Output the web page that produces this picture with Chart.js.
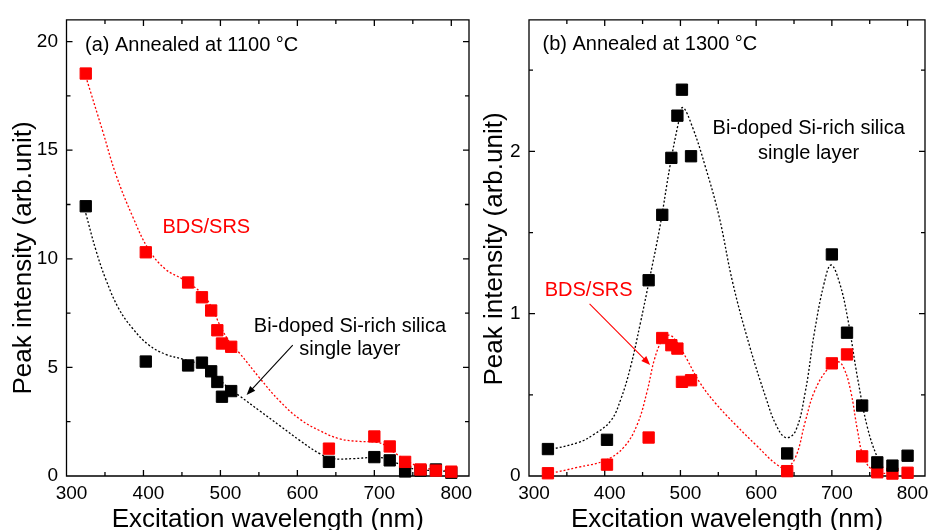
<!DOCTYPE html>
<html>
<head>
<meta charset="utf-8">
<title>Peak intensity vs excitation wavelength</title>
<script src="https://cdn.jsdelivr.net/npm/chart.js@4.4.0/dist/chart.umd.min.js"></script>
<style>
  html, body { margin: 0; padding: 0; background: #fff; overflow: hidden; }
  #wrap { position: relative; width: 932px; height: 530px; }
  canvas { position: absolute; top: 0; }
</style>
</head>
<body>
<div id="wrap">
  <canvas id="panelA" width="478" height="530" style="left:0"></canvas>
  <canvas id="panelB" width="456" height="530" style="left:478px"></canvas>
</div>
<script>
/* Peak intensity vs excitation wavelength, two annealing temperatures */

// excitation wavelengths (nm), shared by every measured series
var WAVELENGTH = [325, 403, 458, 476, 488, 496, 502, 514, 641, 700, 720, 740, 760, 780, 800];

// (a) 1100 C
var A_BDS = [18.53, 10.30, 8.91, 8.23, 7.62, 6.71, 6.10, 5.95, 1.26, 1.82, 1.36, 0.65, 0.30, 0.25, 0.20];
var A_SINGLE = [12.42, 5.27, 5.09, 5.22, 4.82, 4.33, 3.65, 3.91, 0.65, 0.87, 0.72, 0.21, 0.25, 0.30, 0.15];

// (b) 1300 C
var B_BDS = [0.017, 0.07, 0.237, 0.85, 0.806, 0.785, 0.58, 0.59, 0.03, 0.694, 0.749, 0.121, 0.023, 0.015, 0.02];
var B_SINGLE = [0.166, 0.223, 1.206, 1.609, 1.96, 2.22, 2.38, 1.97, 0.139, 1.365, 0.883, 0.434, 0.084, 0.064, 0.125];

// dotted guide curves
var A_BDS_FIT_X = [325, 347, 364, 386, 407, 429, 451, 476, 488, 500, 513, 525, 551, 577, 603, 629, 655, 681, 702, 715, 728, 758, 780, 800];
var A_BDS_FIT_Y = [18.4, 15.88, 13.9, 11.94, 10.42, 9.51, 9.06, 8.4, 7.8, 6.9, 6.1, 5.65, 4.51, 3.45, 2.62, 2.09, 1.71, 1.59, 1.56, 1.4, 1.03, 0.42, 0.3, 0.22];
var A_SINGLE_FIT_X = [325, 338, 351, 368, 386, 407, 429, 451, 476, 490, 503, 514, 525, 551, 577, 603, 629, 646, 672, 698, 715, 741, 760, 780, 800];
var A_SINGLE_FIT_Y = [12.1, 10.42, 9.06, 7.7, 6.79, 6.03, 5.6, 5.38, 5.1, 4.75, 4.3, 3.95, 3.68, 3.0, 2.32, 1.64, 1.03, 0.8, 0.8, 0.85, 0.8, 0.42, 0.28, 0.25, 0.2];

var B_BDS_FIT_X = [325, 365, 400, 425, 443, 456, 466, 477, 486, 495, 508, 525, 546, 574, 600, 626, 639, 652, 665, 677, 695, 708, 716, 725, 734, 742, 755, 780];
var B_BDS_FIT_Y = [0.013, 0.054, 0.095, 0.176, 0.318, 0.521, 0.724, 0.846, 0.867, 0.826, 0.724, 0.58, 0.45, 0.31, 0.19, 0.075, 0.05, 0.115, 0.338, 0.521, 0.663, 0.704, 0.663, 0.521, 0.277, 0.115, 0.034, 0.01];
var B_SINGLE_FIT_X = [325, 365, 386, 408, 421, 434, 447, 460, 473, 486, 497, 503, 516, 533, 551, 569, 591, 613, 626, 639, 652, 665, 677, 690, 699, 710, 721, 734, 747, 760, 765];
var B_SINGLE_FIT_Y = [0.16, 0.206, 0.257, 0.34, 0.47, 0.67, 0.94, 1.233, 1.538, 1.904, 2.168, 2.27, 2.148, 1.904, 1.6, 1.192, 0.806, 0.48, 0.318, 0.237, 0.277, 0.521, 0.887, 1.192, 1.3, 1.192, 0.968, 0.602, 0.298, 0.115, 0.09];

// axes
var X_RANGE = [300, 823];
var X_TICKS = [300, 400, 500, 600, 700, 800];
var A_Y_RANGE = [0, 21];
var A_Y_TICKS = [0, 5, 10, 15, 20];
var B_Y_RANGE = [0, 2.81];
var B_Y_TICKS = [0, 1, 2];

var RED = '#ff0000';
var BLACK = '#000000';
var FONT = '"Liberation Sans", Arial, sans-serif';

Chart.defaults.font.family = FONT;
Chart.defaults.color = BLACK;

function pts(xs, ys) {
  return xs.map(function (x, i) { return { x: x, y: ys[i] }; });
}

function midpoints(ticks, step, max) {
  var out = [];
  ticks.forEach(function (t) { if (t + step / 2 <= max) out.push(t + step / 2); });
  return out;
}

/* box round the plot with inward ticks on all four sides */
var framePlugin = {
  id: 'frame',
  beforeDatasetsDraw: function (chart) {
    var ctx = chart.ctx, a = chart.chartArea;
    var xs = chart.scales.x, ys = chart.scales.y;
    var o = chart.options.plugins.frame;
    ctx.save();
    ctx.strokeStyle = BLACK;
    ctx.lineWidth = 1.3;
    ctx.beginPath();
    ctx.rect(a.left, a.top, a.right - a.left, a.bottom - a.top);
    function xt(v, len) {
      var p = xs.getPixelForValue(v);
      ctx.moveTo(p, a.bottom); ctx.lineTo(p, a.bottom - len);
      ctx.moveTo(p, a.top); ctx.lineTo(p, a.top + len);
    }
    function yt(v, len) {
      var p = ys.getPixelForValue(v);
      ctx.moveTo(a.left, p); ctx.lineTo(a.left + len, p);
      ctx.moveTo(a.right, p); ctx.lineTo(a.right - len, p);
    }
    X_TICKS.forEach(function (v) { xt(v, 6); });
    midpoints(X_TICKS, 100, X_RANGE[1]).forEach(function (v) { xt(v, 4); });
    o.yTicks.forEach(function (v) { yt(v, 6); });
    midpoints(o.yTicks, o.yStep, o.yMax).forEach(function (v) { yt(v, 4); });
    ctx.stroke();
    ctx.restore();
  }
};

/* in-plot labels, arrows and the rotated y title */
var notesPlugin = {
  id: 'notes',
  afterDatasetsDraw: function (chart) {
    var ctx = chart.ctx;
    var xs = chart.scales.x, ys = chart.scales.y;
    var o = chart.options.plugins.notes;
    ctx.save();
    o.texts.forEach(function (t) {
      ctx.font = '20px ' + FONT;
      ctx.fillStyle = t.color;
      ctx.textAlign = t.align;
      ctx.textBaseline = 'alphabetic';
      ctx.fillText(t.text, xs.getPixelForValue(t.x), ys.getPixelForValue(t.y));
    });
    o.arrows.forEach(function (ar) {
      var x1 = xs.getPixelForValue(ar.x1), y1 = ys.getPixelForValue(ar.y1);
      var x2 = xs.getPixelForValue(ar.x2), y2 = ys.getPixelForValue(ar.y2);
      var ang = Math.atan2(y2 - y1, x2 - x1);
      ctx.strokeStyle = ar.color;
      ctx.fillStyle = ar.color;
      ctx.lineWidth = 1.1;
      ctx.beginPath();
      ctx.moveTo(x1, y1);
      ctx.lineTo(x2 - 6 * Math.cos(ang), y2 - 6 * Math.sin(ang));
      ctx.stroke();
      ctx.beginPath();
      ctx.moveTo(x2, y2);
      ctx.lineTo(x2 - 9 * Math.cos(ang) + 3.5 * Math.sin(ang), y2 - 9 * Math.sin(ang) - 3.5 * Math.cos(ang));
      ctx.lineTo(x2 - 9 * Math.cos(ang) - 3.5 * Math.sin(ang), y2 - 9 * Math.sin(ang) + 3.5 * Math.cos(ang));
      ctx.closePath();
      ctx.fill();
    });
    // y axis title
    ctx.font = '26px ' + FONT;
    ctx.fillStyle = BLACK;
    ctx.textAlign = 'center';
    ctx.textBaseline = 'middle';
    ctx.translate(o.yTitle.x, o.yTitle.y);
    ctx.rotate(-Math.PI / 2);
    ctx.fillText('Peak intensity (arb.unit)', 0, 0);
    ctx.restore();
  }
};

function buildPanel(canvasId, p) {
  var markers = [
    {
      label: 'BDS/SRS',
      data: pts(WAVELENGTH, p.bds),
      pointStyle: 'rect', pointRadius: 8, pointHoverRadius: 8,
      backgroundColor: RED, borderColor: RED, borderWidth: 1,
      clip: false, order: p.redOnTop ? 0 : 1
    },
    {
      label: 'Bi-doped Si-rich silica single layer',
      data: pts(WAVELENGTH, p.single),
      pointStyle: 'rect', pointRadius: 8, pointHoverRadius: 8,
      backgroundColor: BLACK, borderColor: BLACK, borderWidth: 1,
      clip: false, order: p.redOnTop ? 1 : 0
    }
  ];
  var curves = [
    {
      label: 'BDS/SRS fit',
      data: pts(p.bdsFitX, p.bdsFitY),
      showLine: true, pointRadius: 0, pointHoverRadius: 0,
      borderColor: RED, borderWidth: 1.3, borderDash: [2, 2],
      tension: 0.4, order: 2
    },
    {
      label: 'single layer fit',
      data: pts(p.singleFitX, p.singleFitY),
      showLine: true, pointRadius: 0, pointHoverRadius: 0,
      borderColor: BLACK, borderWidth: 1.3, borderDash: [2, 2],
      tension: 0.4, order: 3
    }
  ];

  return new Chart(document.getElementById(canvasId), {
    type: 'scatter',
    data: { datasets: markers.concat(curves) },
    options: {
      responsive: false,
      animation: false,
      devicePixelRatio: 1,
      layout: { padding: { top: 14, right: p.padRight, bottom: 0, left: 0 } },
      plugins: {
        legend: { display: false },
        tooltip: { enabled: false },
        frame: { yTicks: p.yTicks, yStep: p.yStep, yMax: p.yRange[1] },
        notes: { texts: p.texts, arrows: p.arrows, yTitle: p.yTitle }
      },
      scales: {
        x: {
          type: 'linear',
          min: X_RANGE[0], max: X_RANGE[1],
          grid: { display: false, drawTicks: false },
          border: { display: false },
          afterBuildTicks: function (s) { s.ticks = X_TICKS.map(function (v) { return { value: v }; }); },
          afterFit: function (s) { s.height = 54; },
          ticks: { font: { size: 19 }, color: BLACK, padding: 6, labelOffset: 5, maxRotation: 0 },
          title: {
            display: true,
            text: 'Excitation wavelength (nm)',
            font: { size: 26, lineHeight: 1 },
            color: BLACK,
            padding: { top: 0, bottom: -3 }
          }
        },
        y: {
          type: 'linear',
          min: p.yRange[0], max: p.yRange[1],
          grid: { display: false, drawTicks: false },
          border: { display: false },
          afterBuildTicks: function (s) { s.ticks = p.yTicks.map(function (v) { return { value: v }; }); },
          afterFit: function (s) { s.width = p.yWidth; },
          ticks: { font: { size: 19 }, color: BLACK, padding: 8.5 }
        }
      }
    },
    plugins: [framePlugin, notesPlugin]
  });
}

buildPanel('panelA', {
  bds: A_BDS, single: A_SINGLE,
  bdsFitX: A_BDS_FIT_X, bdsFitY: A_BDS_FIT_Y,
  singleFitX: A_SINGLE_FIT_X, singleFitY: A_SINGLE_FIT_Y,
  yRange: A_Y_RANGE, yTicks: A_Y_TICKS, yStep: 5,
  yWidth: 66.5, padRight: 8, redOnTop: true,
  yTitle: { x: 24, y: 258 },
  texts: [
    { text: '(a) Annealed at 1100 \u00B0C', x: 324, y: 19.59, color: BLACK, align: 'left' },
    { text: 'BDS/SRS', x: 424.6, y: 11.18, color: RED, align: 'left' },
    { text: 'Bi-doped Si-rich silica', x: 668.3, y: 6.64, color: BLACK, align: 'center' },
    { text: 'single layer', x: 668.3, y: 5.55, color: BLACK, align: 'center' }
  ],
  arrows: [{ x1: 594, y1: 6.03, x2: 534, y2: 3.73, color: BLACK }]
});

buildPanel('panelB', {
  bds: B_BDS, single: B_SINGLE,
  bdsFitX: B_BDS_FIT_X, bdsFitY: B_BDS_FIT_Y,
  singleFitX: B_SINGLE_FIT_X, singleFitY: B_SINGLE_FIT_Y,
  yRange: B_Y_RANGE, yTicks: B_Y_TICKS, yStep: 1,
  yWidth: 51, padRight: 2, redOnTop: false,
  yTitle: { x: 17, y: 249 },
  texts: [
    { text: '(b) Annealed at 1300 \u00B0C', x: 317.8, y: 2.625, color: BLACK, align: 'left' },
    { text: 'Bi-doped Si-rich silica', x: 669.4, y: 2.107, color: BLACK, align: 'center' },
    { text: 'single layer', x: 669.4, y: 1.952, color: BLACK, align: 'center' },
    { text: 'BDS/SRS', x: 320.8, y: 1.107, color: RED, align: 'left' }
  ],
  arrows: [{ x1: 380, y1: 1.06, x2: 460, y2: 0.684, color: RED }]
});
</script>
</body>
</html>
